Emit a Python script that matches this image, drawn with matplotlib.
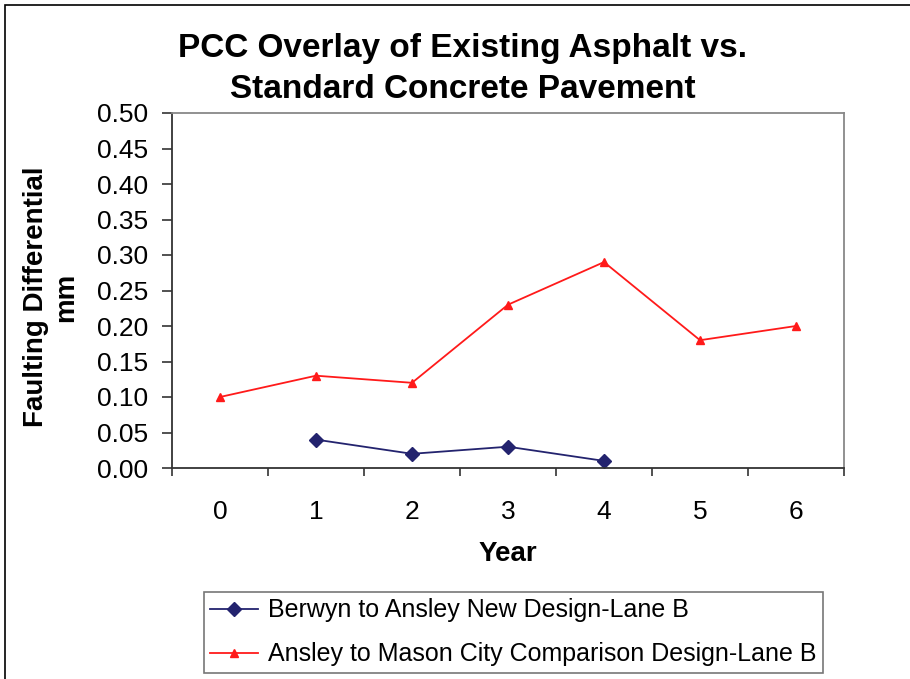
import matplotlib
matplotlib.use("Agg")
import matplotlib.pyplot as plt
from matplotlib.patches import Rectangle

plt.rcParams['font.family'] = ['Liberation Sans', 'DejaVu Sans']

years = [0, 1, 2, 3, 4, 5, 6]
berwyn_years = [1, 2, 3, 4]
berwyn_vals = [0.04, 0.02, 0.03, 0.01]
ansley_years = [0, 1, 2, 3, 4, 5, 6]
ansley_vals = [0.10, 0.13, 0.12, 0.23, 0.29, 0.18, 0.20]
yticks = [0.00, 0.05, 0.10, 0.15, 0.20, 0.25, 0.30, 0.35, 0.40, 0.45, 0.50]

W, H = 910, 679
fig = plt.figure(figsize=(W / 100, H / 100), dpi=100)
fig.patches.append(Rectangle((5 / W, -0.1), 1.2, 1.1 - 5 / H, transform=fig.transFigure,
                             fill=False, edgecolor='black', linewidth=1.2, clip_on=False))

L, R, T, B = 172, 844, 113, 468
ax = fig.add_axes([L / W, 1 - B / H, (R - L) / W, (B - T) / H])

ax.plot(berwyn_years, berwyn_vals, color='#23236e', marker='D', markersize=7,
        linewidth=1.3, label='Berwyn to Ansley New Design-Lane B')
ax.plot(ansley_years, ansley_vals, color='#ff1a1a', marker='^', markersize=6,
        linewidth=1.3, label='Ansley to Mason City Comparison Design-Lane B')

ax.set_xlim(-0.5, 6.5)
ax.set_ylim(0, 0.5)
ax.set_yticks(yticks)
ax.set_yticklabels([f"{v:.2f}" for v in yticks], fontsize=19)
ax.set_xticks(years)
ax.set_xticklabels([str(y) for y in years], fontsize=19)
ax.tick_params(axis='x', length=0, pad=23)
ax.set_xticks([y + 0.5 for y in [-1] + years], minor=True)
ax.tick_params(axis='x', which='minor', length=6, direction='out', color='#333333', width=1.2)
ax.tick_params(axis='y', length=7, direction='out', color='#333333', pad=10, width=1.2)

for s in ['top', 'right']:
    ax.spines[s].set_color('#888888')
    ax.spines[s].set_linewidth(1.3)
for s in ['left', 'bottom']:
    ax.spines[s].set_color('#333333')
    ax.spines[s].set_linewidth(1.3)

fig.text(463 / W, 1 - 49 / H, 'PCC Overlay of Existing Asphalt vs.', ha='center', va='center',
         fontsize=24, fontweight='bold')
fig.text(463 / W, 1 - 89 / H, 'Standard Concrete Pavement', ha='center', va='center',
         fontsize=24, fontweight='bold')
fig.text(508 / W, 1 - 554 / H, 'Year', ha='center', va='center', fontsize=20, fontweight='bold')
fig.text(51 / W, 1 - 297 / H, 'Faulting Differential\nmm', ha='center', va='center',
         rotation=90, fontsize=20, fontweight='bold', linespacing=1.2)

leg = fig.legend(loc='upper left', bbox_to_anchor=(204 / W, 1 - 592 / H), fontsize=18,
                 frameon=True, fancybox=False, edgecolor='#555555', handlelength=1.9,
                 borderpad=0.25, labelspacing=0.8, handletextpad=0.42, borderaxespad=0)
leg.get_frame().set_linewidth(1.2)

fig.savefig('out.png', dpi=100)
